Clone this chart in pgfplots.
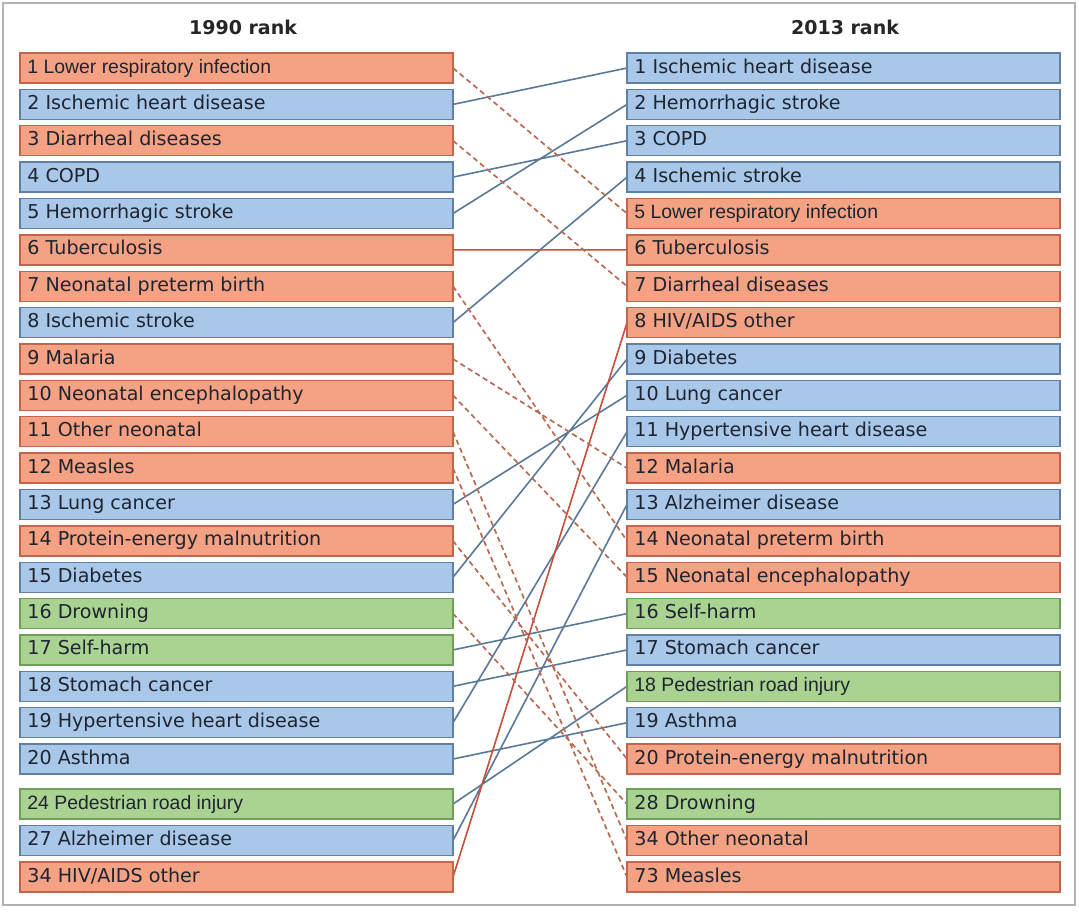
\documentclass[border=0pt]{standalone}
\usepackage{pgfplots}
\pgfplotsset{compat=1.18}
\usepackage{pgfplotstable}
\usepackage{fontspec}
\setmainfont{DejaVu Sans}
\newfontfamily\verd{DejaVu Sans}
\newfontfamily\ari{Liberation Sans}
\definecolor{ofill}{HTML}{F4A283}
\definecolor{oedge}{HTML}{C0664A}
\definecolor{bfill}{HTML}{A9C7E8}
\definecolor{bedge}{HTML}{5F7FA3}
\definecolor{gfill}{HTML}{AAD392}
\definecolor{gedge}{HTML}{6E9E5A}
\definecolor{bline}{HTML}{5A7898}
\definecolor{rline}{HTML}{C4503A}
\definecolor{dline}{HTML}{B86A52}
\definecolor{txt}{HTML}{1E2530}
\pgfdeclareplotmark{rowbox}{\pgfpathrectangle{\pgfpoint{-108.25pt}{-7.5pt}}{\pgfpoint{216.5pt}{15pt}}\pgfusepathqfillstroke}

% box centres (pixel units), class
\pgfplotstableread[col sep=comma]{
x,y,c
236.5,68,o
236.5,104.4,b
236.5,140.7,o
236.5,177.1,b
236.5,213.5,b
236.5,249.9,o
236.5,286.2,o
236.5,322.6,b
236.5,359.0,o
236.5,395.3,o
236.5,431.7,o
236.5,468.1,o
236.5,504.4,b
236.5,540.8,o
236.5,577.2,b
236.5,613.6,g
236.5,649.9,g
236.5,686.3,b
236.5,722.7,b
236.5,759.0,b
236.5,804,g
236.5,840.5,b
236.5,877,o
843.5,68,b
843.5,104.4,b
843.5,140.7,b
843.5,177.1,b
843.5,213.5,o
843.5,249.9,o
843.5,286.2,o
843.5,322.6,o
843.5,359.0,b
843.5,395.3,b
843.5,431.7,b
843.5,468.1,o
843.5,504.4,b
843.5,540.8,o
843.5,577.2,o
843.5,613.6,g
843.5,649.9,b
843.5,686.3,g
843.5,722.7,b
843.5,759.0,o
843.5,804,g
843.5,840.5,o
843.5,877,o
}\boxes

% labels set in a Verdana-like face
\pgfplotstableread[col sep=comma]{
x,y,lab
27,104.4,2 Ischemic heart disease
27,140.7,3 Diarrheal diseases
27,177.1,4 COPD
27,213.5,5 Hemorrhagic stroke
27,249.9,6 Tuberculosis
27,286.2,7 Neonatal preterm birth
27,322.6,8 Ischemic stroke
27,359.0,9 Malaria
27,395.3,10 Neonatal encephalopathy
27,431.7,11 Other neonatal
27,468.1,12 Measles
27,504.4,13 Lung cancer
27,540.8,14 Protein-energy malnutrition
27,577.2,15 Diabetes
27,613.6,16 Drowning
27,649.9,17 Self-harm
27,686.3,18 Stomach cancer
27,722.7,19 Hypertensive heart disease
27,759.0,20 Asthma
27,840.5,27 Alzheimer disease
27,877,34 HIV/AIDS other
634,68,1 Ischemic heart disease
634,104.4,2 Hemorrhagic stroke
634,140.7,3 COPD
634,177.1,4 Ischemic stroke
634,249.9,6 Tuberculosis
634,286.2,7 Diarrheal diseases
634,322.6,8 HIV/AIDS other
634,359.0,9 Diabetes
634,395.3,10 Lung cancer
634,431.7,11 Hypertensive heart disease
634,468.1,12 Malaria
634,504.4,13 Alzheimer disease
634,540.8,14 Neonatal preterm birth
634,577.2,15 Neonatal encephalopathy
634,613.6,16 Self-harm
634,649.9,17 Stomach cancer
634,722.7,19 Asthma
634,759.0,20 Protein-energy malnutrition
634,804,28 Drowning
634,840.5,34 Other neonatal
634,877,73 Measles
}\labV

% labels set in an Arial-like face
\pgfplotstableread[col sep=comma]{
x,y,lab
27,68,1 Lower respiratory infection
27,804,24 Pedestrian road injury
634,213.5,5 Lower respiratory infection
634,686.3,18 Pedestrian road injury
}\labA

\begin{document}
\begin{tikzpicture}
\begin{axis}[
  scale only axis, width=536pt, height=451pt,
  xmin=3, xmax=1075, ymin=3, ymax=905, y dir=reverse,
  xtick=\empty, ytick=\empty,
  axis line style={draw=black!30, line width=1pt},
  clip=false, unbounded coords=jump,
]
\path (axis cs:0,0) rectangle (axis cs:1079,911);
% connecting lines
\addplot[bline, line width=0.8pt] table {
x y
453 104.4
627 68
nan nan
453 177.1
627 140.7
nan nan
453 213.5
627 104.4
nan nan
453 322.6
627 177.1
nan nan
453 504.4
627 395.3
nan nan
453 577.2
627 359.0
nan nan
453 649.9
627 613.6
nan nan
453 686.3
627 649.9
nan nan
453 722.7
627 431.7
nan nan
453 759.0
627 722.7
nan nan
453 804
627 686.3
nan nan
453 840.5
627 504.4
};
\addplot[rline, line width=0.8pt] table {
x y
453 249.9
627 249.9
nan nan
453 877
627 322.6
};
\addplot[dline, line width=0.85pt, dash pattern=on 2.6pt off 1.8pt] table {
x y
453 68
627 213.5
nan nan
453 140.7
627 286.2
nan nan
453 286.2
627 540.8
nan nan
453 359.0
627 468.1
nan nan
453 395.3
627 577.2
nan nan
453 431.7
627 840.5
nan nan
453 468.1
627 877
nan nan
453 540.8
627 759.0
nan nan
453 613.6
627 804
};
% boxes
\addplot[scatter, only marks, scatter src=explicit symbolic,
  scatter/classes={
    o={mark=rowbox, draw=oedge, fill=ofill, line width=0.7pt},
    b={mark=rowbox, draw=bedge, fill=bfill, line width=0.7pt},
    g={mark=rowbox, draw=gedge, fill=gfill, line width=0.7pt}}]
  table[x=x, y=y, meta=c] {\boxes};
% labels
\addplot[draw=none, nodes near coords, point meta=explicit symbolic,
  nodes near coords style={anchor=west, inner sep=0pt, text=txt,
    text height=6.9pt, text depth=1.9pt,
    font=\verd\fontsize{9.55}{10}\selectfont}]
  table[x=x, y=y, meta=lab] {\labV};
\addplot[draw=none, nodes near coords, point meta=explicit symbolic,
  nodes near coords style={anchor=west, inner sep=0pt, text=txt,
    text height=6.9pt, text depth=1.9pt,
    font=\ari\fontsize{9.7}{10}\selectfont}]
  table[x=x, y=y, meta=lab] {\labA};
\node[font=\verd\bfseries\fontsize{9.5}{11}\selectfont, text=black!85] at (axis cs:243,27) {1990 rank};
\node[font=\verd\bfseries\fontsize{9.5}{11}\selectfont, text=black!85] at (axis cs:845,27) {2013 rank};
\end{axis}
\end{tikzpicture}
\end{document}
